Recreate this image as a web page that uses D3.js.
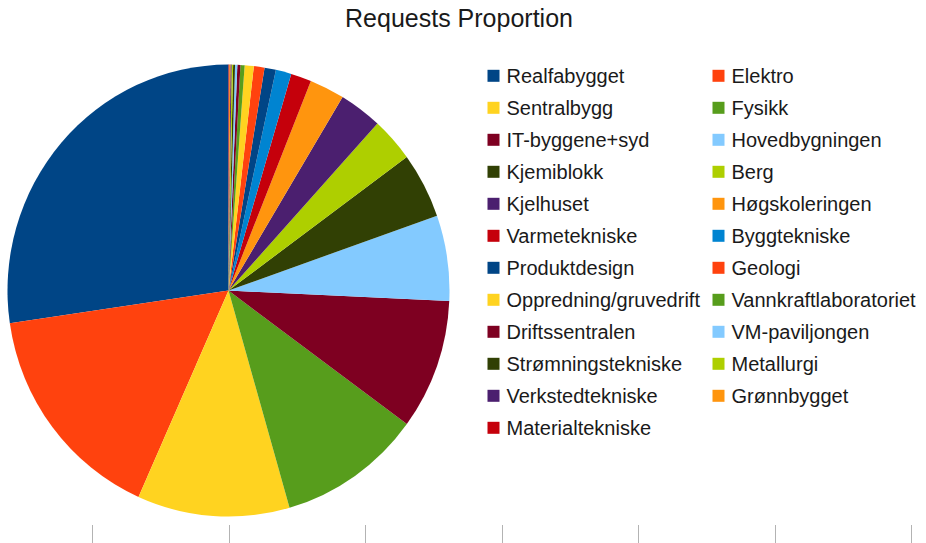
<!DOCTYPE html>
<html>
<head>
<meta charset="utf-8">
<script src="https://cdn.jsdelivr.net/npm/d3@7"></script>
<style>
  html, body { margin: 0; padding: 0; background: #ffffff; }
  svg { display: block; }
  text { font-family: "Liberation Sans", Arial, sans-serif; }
</style>
</head>
<body>
<svg id="chart" width="926" height="543"></svg>
<script>
// Buildings and their share of requests
const buildings = [
  "Realfabygget", "Elektro", "Sentralbygg", "Fysikk", "IT-byggene+syd",
  "Hovedbygningen", "Kjemiblokk", "Berg", "Kjelhuset", "Høgskoleringen",
  "Varmetekniske", "Byggtekniske", "Produktdesign", "Geologi",
  "Oppredning/gruvedrift", "Vannkraftlaboratoriet", "Driftssentralen",
  "VM-paviljongen", "Strømningstekniske", "Metallurgi", "Verkstedtekniske",
  "Grønnbygget", "Materialtekniske"
];
const requests = [
  984, 577, 401, 378, 336,
  220, 169, 114, 113, 92,
  54, 41, 30, 28,
  24, 11, 8,
  6, 5, 4, 3,
  3, 2
];
const palette = [
  "#004586", "#ff420e", "#ffd320", "#579d1c", "#7e0021", "#83caff",
  "#314004", "#aecf00", "#4b1f6f", "#ff950e", "#c5000b", "#0084d1"
];
const axisTicks = [0, 1, 2, 3, 4, 5, 6];

const svg = d3.select("#chart");

// Title
svg.append("text")
  .attr("x", 459)
  .attr("y", 27)
  .attr("text-anchor", "middle")
  .attr("font-size", 25)
  .attr("fill", "#1a1a1a")
  .text("Requests Proportion");

const data = buildings.map((name, i) => ({ name, value: requests[i] }));
const color = d3.scaleOrdinal().domain(buildings).range(palette);

// Pie, drawn counterclockwise from 12 o'clock
const rx = 221, ry = 226;
const pie = d3.pie().value(d => d.value).sort(null)
  .startAngle(0).endAngle(-2 * Math.PI);
const arc = d3.arc().innerRadius(0).outerRadius(rx);

const g = svg.append("g")
  .attr("transform", `translate(228.5,290.6) scale(1,${ry / rx})`);

g.selectAll("path")
  .data(pie(data))
  .join("path")
  .attr("d", arc)
  .attr("fill", d => color(d.data.name));

// Legend, two columns
const legend = svg.append("g");
const colX = d3.scaleOrdinal().domain([0, 1]).range([487.5, 712.5]);
const rowY = d3.scaleLinear().domain([0, 1]).range([75.8, 107.8]);

const items = legend.selectAll("g")
  .data(data)
  .join("g")
  .attr("transform", (d, i) => `translate(${colX(i % 2)},${rowY(Math.floor(i / 2))})`);

items.append("rect")
  .attr("x", 0)
  .attr("y", -6)
  .attr("width", 12)
  .attr("height", 12)
  .attr("fill", d => color(d.name));

items.append("text")
  .attr("x", 19)
  .attr("y", 7.2)
  .attr("font-size", 20)
  .attr("fill", "#1a1a1a")
  .text(d => d.name);

// Bare category axis ticks along the bottom
const tickScale = d3.scaleLinear().domain([0, 6]).range([92, 911]);
svg.append("g")
  .selectAll("line")
  .data(axisTicks)
  .join("line")
  .attr("x1", d => Math.round(tickScale(d)) + 0.5)
  .attr("x2", d => Math.round(tickScale(d)) + 0.5)
  .attr("y1", 525)
  .attr("y2", 543)
  .attr("stroke", "#b3b3b3")
  .attr("stroke-width", 1);
</script>
</body>
</html>
